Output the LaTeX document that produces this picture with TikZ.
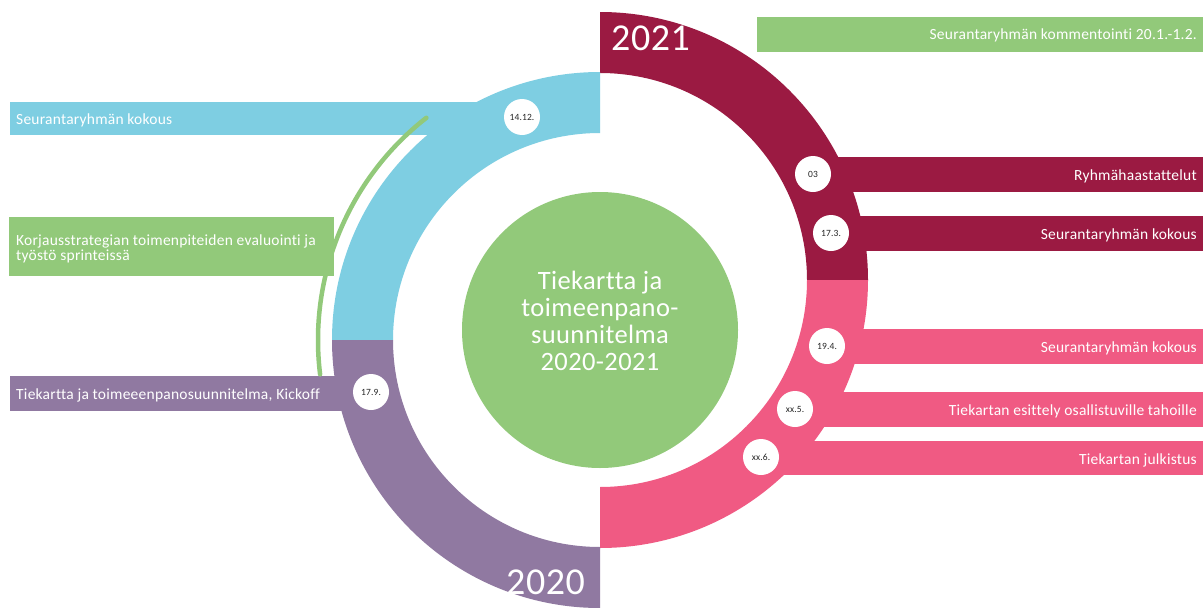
\documentclass[tikz,border=0pt]{standalone}
\usepackage{fontspec}
\setmainfont{Carlito}[Ligatures=NoCommon, LetterSpace=1.5]
\definecolor{tkmaroon}{HTML}{9B1A42}
\definecolor{tkpink}{HTML}{F05A83}
\definecolor{tkblue}{HTML}{7ECEE2}
\definecolor{tkpurple}{HTML}{9079A1}
\definecolor{tkgreen}{HTML}{92C97A}
\begin{document}
\begin{tikzpicture}[x=1pt, y=1pt,
        boxtext/.style={text=white, inner sep=0pt, font=\fontsize{15.5}{15.5}\selectfont},
        datedot/.style={circle, fill=white, minimum size=36pt, inner sep=0pt, text=black!85, font=\fontsize{9.5}{9.5}\selectfont},
        yeartext/.style={text=white, inner sep=0pt, font=\fontsize{38}{38}\selectfont}]
        \pgfmathsetmacro{\rout}{268};
        \pgfmathsetmacro{\rin}{207};
        \useasboundingbox [fill=white] (0,0) rectangle (1203,-608);
        % right half of the ring
        \fill [tkmaroon] (600,-12) arc [start angle=90, end angle=0, radius=\rout] -- (807,-280) arc [start angle=0, end angle=90, radius=\rin] -- cycle;
        \fill [tkpink] (868,-280) arc [start angle=0, end angle=-90, radius=\rout] -- (600,-487) arc [start angle=-90, end angle=0, radius=\rin] -- cycle;
        % left half, one band lower
        \fill [tkblue] (600,-72) arc [start angle=90, end angle=180, radius=\rout] -- (393,-340) arc [start angle=180, end angle=90, radius=\rin] -- cycle;
        \fill [tkpurple] (332,-340) arc [start angle=180, end angle=270, radius=\rout] -- (600,-547) arc [start angle=270, end angle=180, radius=\rin] -- cycle;
        % bars
        \fill [tkgreen] (757,-17) rectangle (1203,-52);
        \fill [tkmaroon] (813,-157) rectangle (1203,-192);
        \fill [tkmaroon] (831,-216) rectangle (1203,-251);
        \fill [tkpink] (827,-329) rectangle (1203,-364);
        \fill [tkpink] (795,-392) rectangle (1203,-427);
        \fill [tkpink] (761,-441) rectangle (1203,-475);
        \fill [tkblue] (10,-102) rectangle (522,-135);
        \fill [tkgreen] (9,-217) rectangle (334,-276);
        \fill [tkpurple] (10,-376) rectangle (371,-411);
        \draw [tkgreen, line width=4.5pt, line cap=round] (600,-340) ++(128:282) arc [start angle=128, end angle=187, radius=282];
        % centre
        \fill [tkgreen] (600,-330) circle [radius=138];
        \node (title) [text=white, align=center, font=\fontsize{26.5}{27}\selectfont] at (600,-321) {Tiekartta ja\\toimeenpano-\\suunnitelma\\2020-2021};
        \node (y21) [yeartext, anchor=base west] at (611,-50) {2021};
        \node (y20) [yeartext, anchor=base west] at (506,-594) {2020};
        % dates
        \node (d03) [datedot] at (813,-174) {03};
        \node (d173) [datedot] at (831,-233) {17.3.};
        \node (d194) [datedot] at (827,-346) {19.4.};
        \node (dxx5) [datedot] at (795,-409) {xx.5.};
        \node (dxx6) [datedot] at (761,-457) {xx.6.};
        \node (d1412) [datedot] at (522,-117) {14.12.};
        \node (d179) [datedot] at (371,-392) {17.9.};
        % bar texts
        \node (tkomm) [boxtext, anchor=base east] at (1197,-39.5) {Seurantaryhmän kommentointi 20.1.-1.2.};
        \node (tryhma) [boxtext, anchor=base east] at (1197,-180) {Ryhmähaastattelut};
        \node (tkok2) [boxtext, anchor=base east] at (1197,-239) {Seurantaryhmän kokous};
        \node (tkok3) [boxtext, anchor=base east] at (1197,-352) {Seurantaryhmän kokous};
        \node (tesit) [boxtext, anchor=base east] at (1197,-415) {Tiekartan esittely osallistuville tahoille};
        \node (tjulk) [boxtext, anchor=base east] at (1197,-464) {Tiekartan julkistus};
        \node (tkok1) [boxtext, anchor=base west] at (16,-124) {Seurantaryhmän kokous};
        \node (tkorj) [boxtext, anchor=west, align=left] at (16,-249) {Korjausstrategian toimenpiteiden evaluointi ja\\työstö sprinteissä};
        \node (tkick) [boxtext, anchor=base west] at (16,-399) {Tiekartta ja toimeeenpanosuunnitelma, Kickoff};
\end{tikzpicture}
\end{document}
